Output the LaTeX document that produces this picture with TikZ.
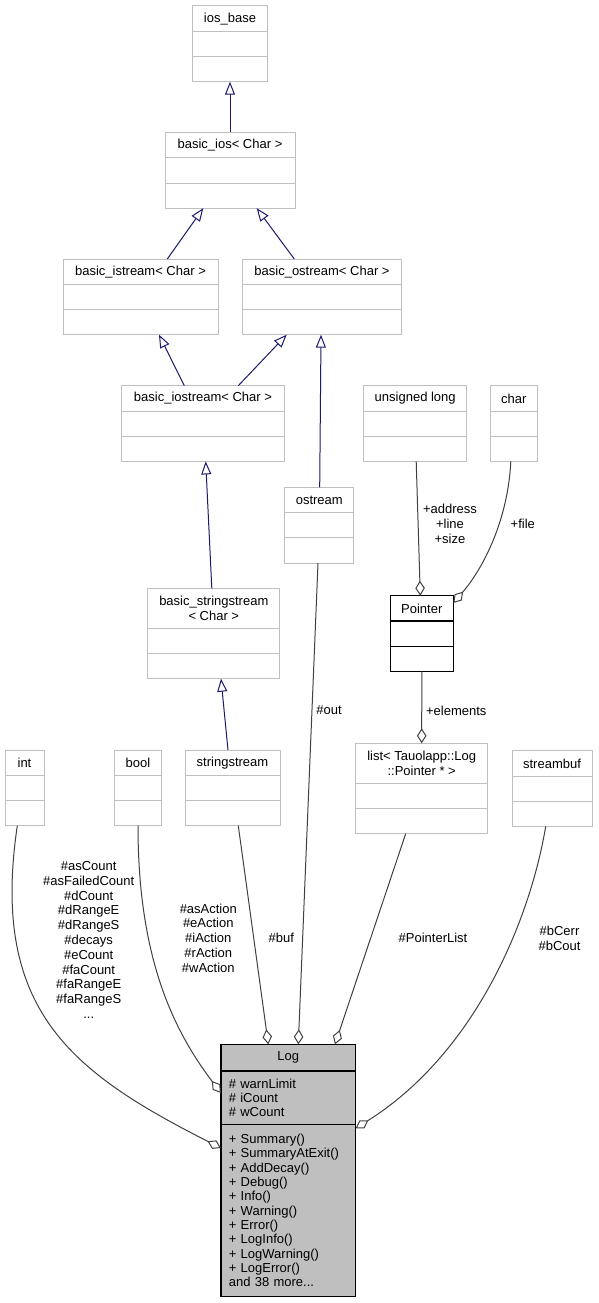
\documentclass[tikz,border=0pt]{standalone}
\usepackage{fontspec}
\setmainfont{Liberation Sans}
\usetikzlibrary{arrows.meta,positioning}

\definecolor{boxgray}{HTML}{BFBFBF}
\definecolor{edgegray}{HTML}{404040}
\definecolor{inhblue}{HTML}{191970}

\tikzset{
  clshead/.style={rectangle,draw=boxgray,fill=white,line width=1pt,inner sep=0pt,outer sep=0pt,
                  align=center,font=\fontsize{13}{14.8}\selectfont},
  clspart/.style={rectangle,draw=boxgray,fill=white,line width=1pt,inner sep=0pt,outer sep=0pt,
                  minimum height=25.2pt},
  pointercls/.style={draw=black,line width=1.3pt},
  logpart/.style={rectangle,draw=black,fill=boxgray,line width=1.3pt,outer sep=0pt,inner xsep=7.8pt,
                  inner ysep=0pt,minimum width=134.7pt,font=\fontsize{13}{14.3}\selectfont},
  lbl/.style={align=center,inner sep=0pt,font=\fontsize{13}{14.8}\selectfont},
  inh/.style={draw=inhblue,line width=1pt,-{Triangle[open,length=13pt,width=10pt]}},
  agg/.style={draw=edgegray,line width=1pt,-{Diamond[open,length=15pt,width=9.5pt]}},
}

% name, top centre, width, head height, title
\newcommand{\umlclass}[6][]{%
  \node[clshead,#1,minimum width=#4,minimum height=#5,anchor=north] (#2) at (#3) {#6};
  \node[clspart,#1,minimum width=#4,below=0pt of #2] (#2-m) {};
  \node[clspart,#1,minimum width=#4,below=0pt of #2-m] (#2-b) {};
}

\begin{document}
\begin{tikzpicture}[x=1pt,y=-1pt]
  \useasboundingbox (0,0) rectangle (598,1303);

  \umlclass{iosbase}{230,6}{75pt}{25.3pt}{ios\_base}
  \umlclass{bios}{230,132.5}{130pt}{25.3pt}{basic\_ios< Char >}
  \umlclass{bistream}{140.5,259}{155pt}{25.3pt}{basic\_istream< Char >}
  \umlclass{bostream}{322,259}{158.6pt}{25.3pt}{basic\_ostream< Char >}
  \umlclass{biostream}{203,385.7}{162.6pt}{25.3pt}{basic\_iostream< Char >}
  \umlclass{ulong}{415.2,385.7}{103pt}{25.3pt}{unsigned long}
  \umlclass{char}{513.8,385.7}{47pt}{25.3pt}{char}
  \umlclass{ostream}{319.3,487.3}{69.3pt}{25.3pt}{ostream}
  \umlclass{bsstream}{213.8,588.3}{132.3pt}{40pt}{basic\_stringstream\\< Char >}
  \umlclass[pointercls]{pointer}{421.8,595.7}{63pt}{25.3pt}{Pointer}
  \umlclass{int}{24.5,750}{39pt}{25.3pt}{int}
  \umlclass{bool}{138,750}{47.4pt}{25.3pt}{bool}
  \umlclass{sstream}{232.5,750}{95pt}{25.3pt}{stringstream}
  \umlclass{list}{421.7,743.3}{132pt}{40pt}{list< Tauolapp::Log\\::Pointer * >}
  \umlclass{sbuf}{552,750.7}{80pt}{25.3pt}{streambuf}

  \node[logpart,minimum height=26.7pt,anchor=north] (log) at (288.3,1044.3) {Log};
  \node[logpart,align=left,text width=119pt,minimum height=53.3pt,below=0pt of log] (log-a)
    {\# warnLimit\\\# iCount\\\# wCount};
  \node[logpart,align=left,text width=119pt,minimum height=172.4pt,below=0pt of log-a] (log-o)
    {+ Summary()\\+ SummaryAtExit()\\+ AddDecay()\\+ Debug()\\+ Info()\\+ Warning()\\+ Error()\\
     + LogInfo()\\+ LogWarning()\\+ LogError()\\and 38 more...};

  % inheritance
  \draw[inh] (bios.north) -- (iosbase-b.south);
  \draw[inh] ([xshift=26.8pt]bistream.north) -- ([xshift=-26.7pt]bios-b.south);
  \draw[inh] ([xshift=-27.7pt]bostream.north) -- ([xshift=26.7pt]bios-b.south);
  \draw[inh] ([xshift=-18.7pt]biostream.north) -- ([xshift=18.5pt]bistream-b.south);
  \draw[inh] ([xshift=35.3pt]biostream.north) -- ([xshift=-35.3pt]bostream-b.south);
  \draw[inh] ([xshift=0.4pt]ostream.north) -- ([xshift=-1pt]bostream-b.south);
  \draw[inh] ([xshift=-2pt]bsstream.north) -- ([xshift=2.7pt]biostream-b.south);
  \draw[inh] ([xshift=-4.5pt]sstream.north) -- ([xshift=7.2pt]bsstream-b.south);

  % members
  \draw[agg] ([xshift=1pt]ulong-b.south) -- ([xshift=-1.5pt]pointer.north);
  \draw[agg] ([xshift=-3pt]char-b.south) .. controls (508,520) and (483.3,568.2) .. ([yshift=-7.3pt]pointer.north east);
  \draw[agg] (pointer-b.south) -- (list.north);
  \draw[agg] ([xshift=-7.2pt]int-b.south) .. controls (-10,1010) and (71,1072) .. ([yshift=-103.7pt]log.north west);
  \draw[agg] (bool-b.south) .. controls (138,960) and (174.5,1031.5) .. ([yshift=-48.7pt]log.north west);
  \draw[agg] ([xshift=5.8pt]sstream-b.south) -- ([xshift=-20pt]log.north);
  \draw[agg] ([xshift=-1.3pt]ostream-b.south) -- ([xshift=10pt]log.north);
  \draw[agg] ([xshift=-16pt]list-b.south) -- ([xshift=46.7pt]log.north);
  \draw[agg] ([xshift=-6.3pt]sbuf-b.south) .. controls (530,920) and (475.4,1053) .. ([yshift=-84pt]log.north east);

  \node[lbl] (l-addr) at (450,524) {+address\\+line\\+size};
  \node[lbl] (l-file) at (522.8,524.3) {+file};
  \node[lbl] (l-elem) at (456.3,710.7) {+elements};
  \node[lbl] (l-out) at (329,710) {\#out};
  \node[lbl] (l-int) at (88.7,940) {\#asCount\\\#asFailedCount\\\#dCount\\\#dRangeE\\\#dRangeS\\\#decays\\
                                    \#eCount\\\#faCount\\\#faRangeE\\\#faRangeS\\...};
  \node[lbl] (l-bool) at (208.3,938) {\#asAction\\\#eAction\\\#iAction\\\#rAction\\\#wAction};
  \node[lbl] (l-buf) at (281.3,938.3) {\#buf};
  \node[lbl] (l-plist) at (433,938.3) {\#PointerList};
  \node[lbl] (l-sbuf) at (559.5,938.5) {\#bCerr\\\#bCout};
\end{tikzpicture}
\end{document}
